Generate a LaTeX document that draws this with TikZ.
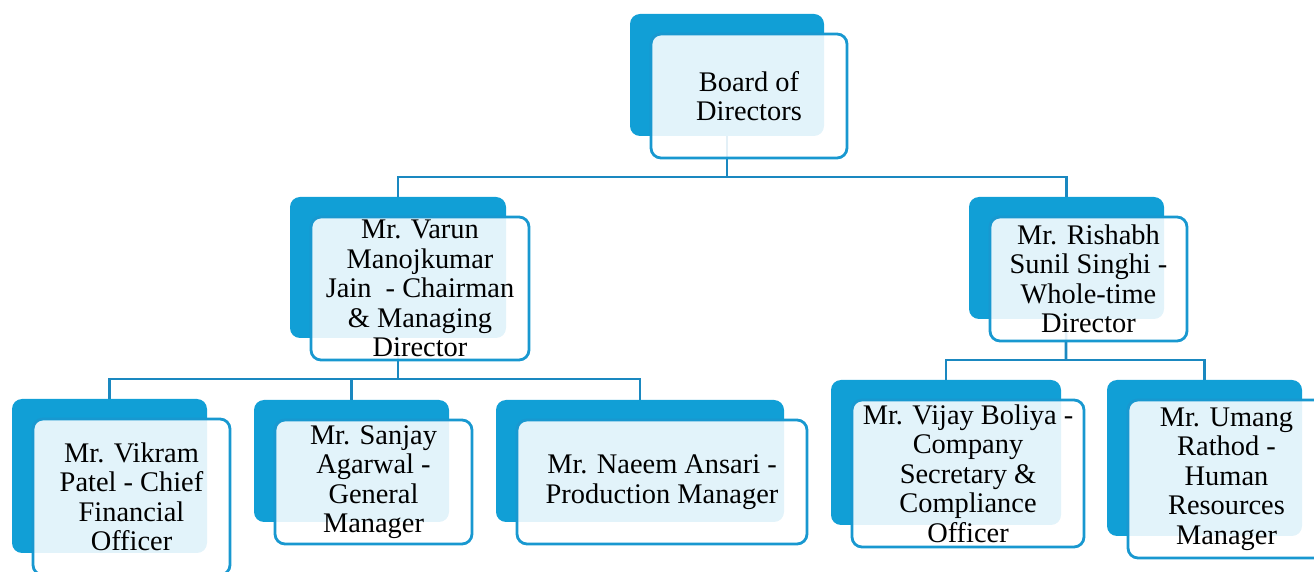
\documentclass[tikz,border=0pt]{standalone}
\usepackage{fontspec}
\setmainfont{Liberation Serif}
\usetikzlibrary{fit,backgrounds}
\definecolor{cBlue}{RGB}{17,159,214}
\definecolor{cBorder}{RGB}{24,152,208}
\definecolor{cLine}{RGB}{26,136,192}
\tikzset{
  backbox/.style={fill=cBlue, rounded corners=5pt, inner sep=0pt, draw=none},
  frontbox/.style={draw=cBorder, line width=1.4pt, fill=white, fill opacity=0.88, rounded corners=5pt, inner sep=0pt},
  lbl/.style={align=center, inner sep=0pt, text=black, font=\fontsize{14.2}{14.75}\selectfont},
  conn/.style={draw=cLine, line width=1.35pt}
}
\newcommand\orgbox[6]{%
  \node[backbox, fit={(#2,#3) (#4,#5)}] (b#1) {};
  \node[frontbox, fit={(#2+21,#3+20) (#4+23,#5+22)}] (f#1) {};
  \node[lbl] (t#1) at (f#1.center) {#6};
}
\begin{document}
\begin{tikzpicture}[x=0.5pt,y=-0.5pt]
\useasboundingbox (0,0) rectangle (1314,572);
\clip (0,0) rectangle (1314,572);
\orgbox{Board}{630}{14}{824}{136}{Board of\\Directors}
\orgbox{Varun}{290}{197}{506}{338}{Mr. Varun\\Manojkumar\\Jain~~- Chairman\\\& Managing\\Director}
\orgbox{Rishabh}{969}{197}{1164}{319}{Mr. Rishabh\\Sunil Singhi -\\Whole-time\\Director}
\orgbox{Vikram}{12}{399}{207}{553}{Mr. Vikram\\Patel - Chief\\Financial\\Officer}
\orgbox{Sanjay}{254}{400}{449}{522}{Mr. Sanjay\\Agarwal -\\General\\Manager}
\orgbox{Naeem}{496}{400}{784}{522}{Mr. Naeem Ansari -\\Production Manager}
\orgbox{Vijay}{831}{380}{1061}{525}{Mr. Vijay Boliya -\\Company\\Secretary \&\\Compliance\\Officer}
\orgbox{Umang}{1107}{380}{1302}{536}{Mr. Umang\\Rathod -\\Human\\Resources\\Manager}
\begin{scope}[on background layer]
  \coordinate (j1) at (727,177);
  \coordinate (j2) at (398,379);
  \coordinate (j3) at (1066,360);
  \draw[conn] (bBoard.center) -- (j1);
  \draw[conn] (bVarun.north) |- (j1) -| (bRishabh.north);
  \draw[conn] (bVarun.center) -- (j2);
  \draw[conn] (bVikram.north) |- (j2) -| (bNaeem.north);
  \draw[conn] (bSanjay.north) -- (bSanjay.north |- j2);
  \draw[conn] (bRishabh.center) -- (j3);
  \draw[conn] (bVijay.north) |- (j3) -| (bUmang.north);
\end{scope}
\end{tikzpicture}
\end{document}
